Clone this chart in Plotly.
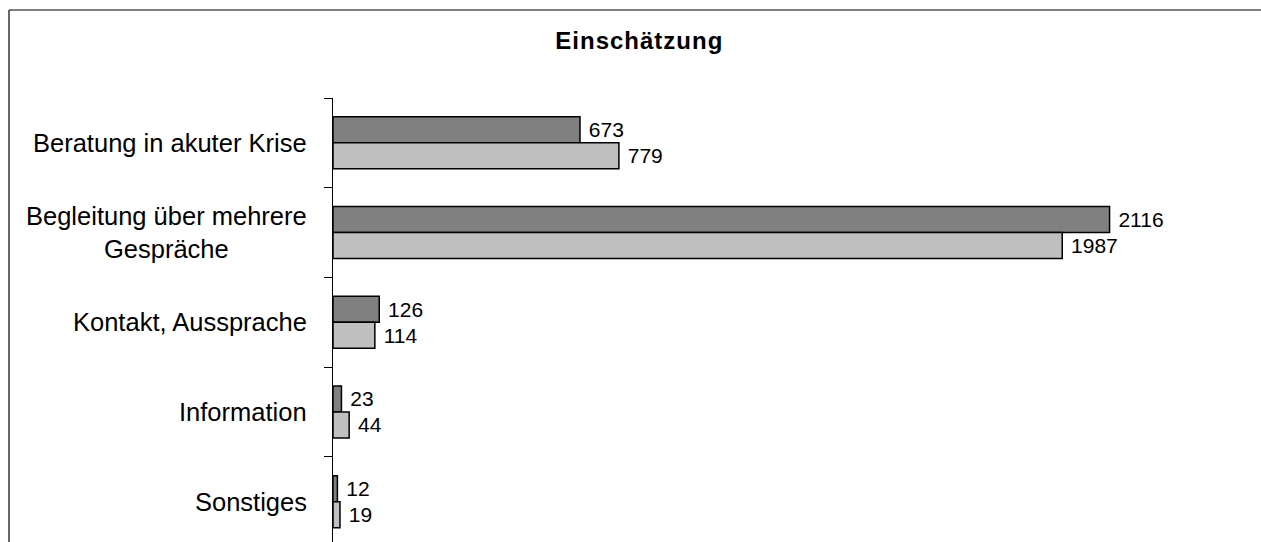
import plotly.graph_objects as go

categories = ["Beratung in akuter Krise", "Begleitung über mehrere<br>Gespräche",
              "Kontakt, Aussprache", "Information", "Sonstiges"]
series_a = [673, 2116, 126, 23, 12]
series_b = [779, 1987, 114, 44, 19]
title_text = "Einschätzung"

W, H = 1261, 542
L, R, T, B = 333, 10, 98, 0
plotW = W - L - R
plotH = H - T - B
px_per_unit = 0.367
xmax = plotW / px_per_unit
cat_px = 89.7
ybottom = -0.5 + plotH / cat_px

FONT = "Liberation Sans, Arial, sans-serif"

fig = go.Figure()
for vals, col, name in [(series_a, "#808080", "Serie 1"), (series_b, "#c0c0c0", "Serie 2")]:
    fig.add_trace(go.Bar(
        y=categories, x=vals, orientation="h", name=name,
        marker=dict(color=col, line=dict(color="#000000", width=1.5)),
        text=vals, texttemplate=" %{x}", textposition="outside",
        constraintext="none", cliponaxis=False,
        textfont=dict(family=FONT, size=21, color="#000000"),
    ))

for c in categories:
    fig.add_annotation(
        x=0, xref="paper", y=c, yref="y", text=c, showarrow=False,
        xanchor="right", yanchor="middle", align="center", xshift=-24,
        font=dict(family=FONT, size=25.5, color="#000000"),
    )

# chart frame (top and left edges; right/bottom lie outside the picture)
fx0 = (9 - L) / plotW
fy1 = 1 + (T - 10) / plotH
fig.add_shape(type="line", xref="paper", yref="paper", x0=fx0, x1=1.2, y0=fy1, y1=fy1,
              line=dict(color="#000000", width=1.2))
fig.add_shape(type="line", xref="paper", yref="paper", x0=fx0, x1=fx0, y0=-0.2, y1=fy1,
              line=dict(color="#000000", width=1.2))

fig.update_layout(
    width=W, height=H,
    margin=dict(l=L, r=R, t=T, b=B, pad=0),
    barmode="group", bargap=0.42, bargroupgap=0,
    showlegend=False,
    plot_bgcolor="white", paper_bgcolor="white",
    font=dict(family=FONT, color="#000000"),
    title=dict(text='<b><span style="letter-spacing:1px">' + title_text + '</span></b>',
               font=dict(family=FONT, size=24, color="#000000"),
               x=0.507, xref="container", xanchor="center",
               y=1 - 40.5 / H, yref="container", yanchor="middle"),
    xaxis=dict(range=[0, xmax], visible=False, showgrid=False, zeroline=False),
    yaxis=dict(range=[ybottom, -0.5], showline=True, linecolor="#000000", linewidth=1,
               ticks="outside", ticklen=8, tickcolor="#000000", tickwidth=1,
               tickson="boundaries", showticklabels=False, showgrid=False, zeroline=False),
)

fig.write_html("out.html", config={"displayModeBar": False},
               post_script="document.body.style.margin='0';document.body.style.overflow='hidden';")
